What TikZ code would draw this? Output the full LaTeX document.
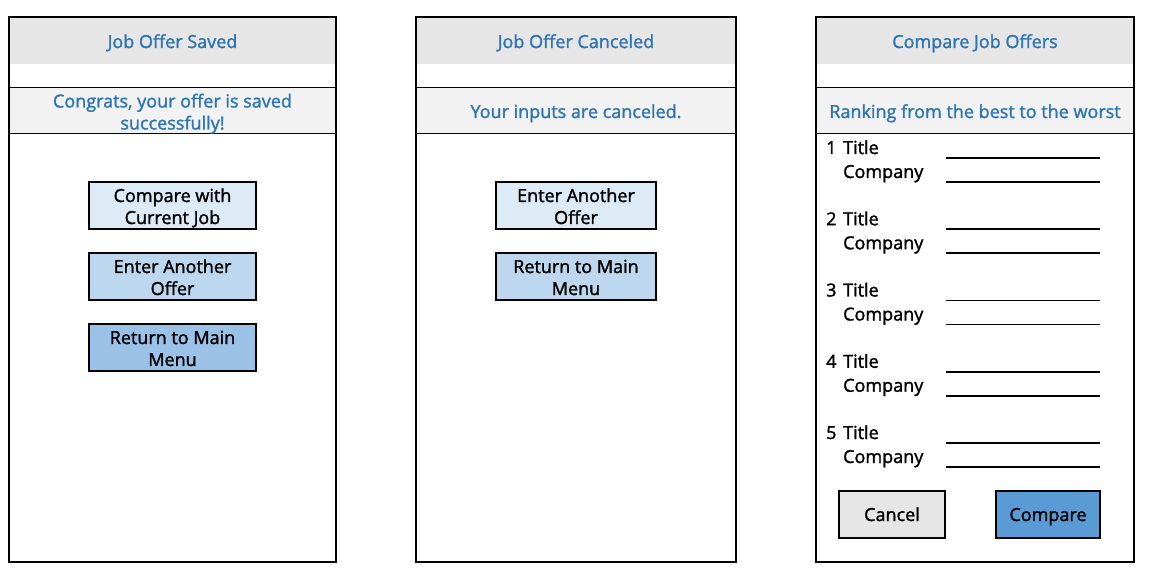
\documentclass[tikz,border=0pt]{standalone}
\usepackage{fontspec}
\setmainfont{Open Sans}[FakeBold=1.6]
\definecolor{hdrgray}{HTML}{E7E6E6}
\definecolor{bandgray}{HTML}{F2F2F2}
\definecolor{txtblue}{HTML}{2E75B6}
\definecolor{btnA}{HTML}{DDEBF7}
\definecolor{btnB}{HTML}{BDD7EE}
\definecolor{btnC}{HTML}{9BC2E6}
\definecolor{btnD}{HTML}{5B9BD5}
\newcommand{\topS}{\rule{0pt}{20pt}}
\newcommand{\botS}{\rule[-5pt]{0pt}{5pt}}
\newcommand{\oneS}{\rule[-5pt]{0pt}{23pt}}
\tikzset{
  panelbox/.style={draw=black, line width=2pt},
  hdrtext/.style={text=txtblue, font=\fontsize{18}{22}\selectfont, align=center, inner sep=0pt},
  btnbox/.style={draw=black, line width=1.8pt, align=center, inner sep=0pt,
    font=\fontsize{18}{22}\selectfont, text=black},
  rowtext/.style={font=\fontsize{18}{22}\selectfont, inner sep=0pt, anchor=base west},
  thinline/.style={line width=1pt},
  uline/.style={line width=1.8pt}
}
\begin{document}
\begin{tikzpicture}[x=1pt,y=-1pt]
\useasboundingbox (0,0) rectangle (1163,588);
% ---------- panel 1 ----------
\fill[hdrgray] (9,17) rectangle (336,64);
\fill[bandgray] (9,88) rectangle (336,134);
\draw[thinline] (9,88) -- (336,88) (9,134) -- (336,134);
\draw[panelbox] (9,17) rectangle (336,562);
\node[hdrtext, anchor=base] (h1) at (172.5,48) {Job Offer Saved};
\node[hdrtext] (m1) at (172.5,111) {\topS Congrats, your offer is saved\\successfully!\botS};
\node[btnbox, fill=btnA, minimum width=167pt, minimum height=47pt] (b11) at (172.5,205.5) {\topS Compare with\\Current Job\botS};
\node[btnbox, fill=btnB, minimum width=167pt, minimum height=47pt] (b12) at (172.5,276.5) {\topS Enter Another\\Offer\botS};
\node[btnbox, fill=btnC, minimum width=167pt, minimum height=47pt] (b13) at (172.5,347.5) {\topS Return to Main\\Menu\botS};
% ---------- panel 2 ----------
\fill[hdrgray] (416,17) rectangle (736,64);
\fill[bandgray] (416,88) rectangle (736,134);
\draw[thinline] (416,88) -- (736,88) (416,134) -- (736,134);
\draw[panelbox] (416,17) rectangle (736,562);
\node[hdrtext, anchor=base] (h2) at (576,48) {Job Offer Canceled};
\node[hdrtext, anchor=base] (m2) at (576,118) {Your inputs are canceled.};
\node[btnbox, fill=btnA, minimum width=160pt, minimum height=47pt] (b21) at (576,205.5) {\topS Enter Another\\Offer\botS};
\node[btnbox, fill=btnB, minimum width=160pt, minimum height=47pt] (b22) at (576,276.5) {\topS Return to Main\\Menu\botS};
% ---------- panel 3 ----------
\fill[hdrgray] (816,17) rectangle (1134,64);
\fill[bandgray] (816,88) rectangle (1134,134);
\draw[thinline] (816,88) -- (1134,88) (816,134) -- (1134,134);
\draw[panelbox] (816,17) rectangle (1134,562);
\node[hdrtext, anchor=base] (h3) at (975,48) {Compare Job Offers};
\node[hdrtext, anchor=base] (m3) at (975,118) {Ranking from the best to the worst};
\foreach \i in {1,...,5}{
  \pgfmathsetmacro{\yb}{154+71.25*(\i-1)}
  \pgfmathsetmacro{\yc}{\yb+24}
  \node[rowtext] (n\i) at (826,\yb) {\i};
  \node[rowtext] (t\i) at (843,\yb) {Title};
  \node[rowtext] (c\i) at (843,\yc) {Company};
  \draw[uline] (946,\yb+4) -- (1100,\yb+4);
  \draw[uline] (946,\yc+4) -- (1100,\yc+4);
}
\node[btnbox, fill=hdrgray, minimum width=106pt, minimum height=47pt] (cancel) at (892,514.5) {\oneS Cancel};
\node[btnbox, fill=btnD, minimum width=104pt, minimum height=47pt] (compare) at (1048,514.5) {\oneS Compare};
\end{tikzpicture}
\end{document}
